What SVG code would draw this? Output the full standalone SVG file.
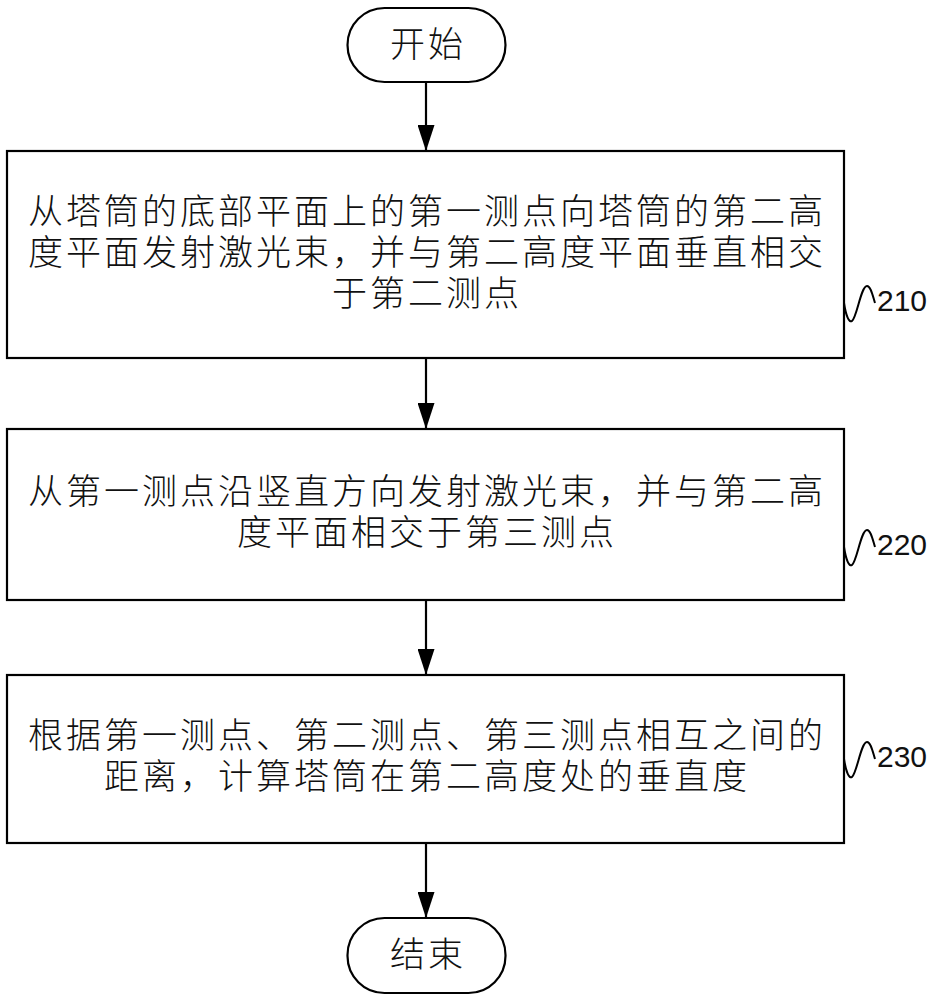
<svg xmlns="http://www.w3.org/2000/svg" width="934" height="1000" viewBox="0 0 934 1000">
<defs>
<style>
.box{fill:#fff;stroke:#000;stroke-width:2.2}
.t{font-family:"Noto Sans CJK SC","Noto Sans CJK JP",sans-serif;font-size:35px;font-weight:300;fill:#111;text-anchor:middle;letter-spacing:3px}
.n{font-family:"Liberation Sans",Arial,sans-serif;font-size:30px;fill:#111}
.ln{fill:none;stroke:#000;stroke-width:2.2}
.sq{fill:none;stroke:#000;stroke-width:2}
</style>
<marker id="ah" markerWidth="26" markerHeight="17" refX="26" refY="8.5" orient="auto" markerUnits="userSpaceOnUse" viewBox="0 0 26 17">
<path d="M0,0 L26,8.5 L0,17 Z" fill="#000"/>
</marker>
</defs>
<rect width="934" height="1000" fill="#fff"/>
<g id="connectors">
<line class="ln" x1="426" y1="82" x2="426" y2="151" marker-end="url(#ah)"/>
<line class="ln" x1="426" y1="358" x2="426" y2="429" marker-end="url(#ah)"/>
<line class="ln" x1="426" y1="600" x2="426" y2="675" marker-end="url(#ah)"/>
<line class="ln" x1="426" y1="843" x2="426" y2="918" marker-end="url(#ah)"/>
</g>
<g id="start">
<rect class="box" x="347.5" y="8" width="158" height="74" rx="37" ry="37"/>
<text class="t" x="428" y="57">开始</text>
</g>
<g id="step210">
<rect class="box" x="7" y="151" width="837" height="207"/>
<text class="t" x="427" y="224">从塔筒的底部平面上的第一测点向塔筒的第二高</text>
<text class="t" x="427" y="265">度平面发射激光束，并与第二高度平面垂直相交</text>
<text class="t" x="427" y="306">于第二测点</text>
<path class="sq" d="M844,303 C846,316 849,323 852,321 C857,317 861,286 867,286 C871,286 873,297 875,303"/>
<text class="n" x="877" y="311">210</text>
</g>
<g id="step220">
<rect class="box" x="7" y="429" width="837" height="171"/>
<text class="t" x="427" y="504">从第一测点沿竖直方向发射激光束，并与第二高</text>
<text class="t" x="427" y="545">度平面相交于第三测点</text>
<path class="sq" d="M844,547 C846,560 849,567 852,565 C857,561 861,530 867,530 C871,530 873,541 875,547"/>
<text class="n" x="877" y="555">220</text>
</g>
<g id="step230">
<rect class="box" x="7" y="675" width="837" height="168"/>
<text class="t" x="427" y="748">根据第一测点、第二测点、第三测点相互之间的</text>
<text class="t" x="427" y="789">距离，计算塔筒在第二高度处的垂直度</text>
<path class="sq" d="M844,759 C846,772 849,779 852,777 C857,773 861,742 867,742 C871,742 873,753 875,759"/>
<text class="n" x="877" y="767">230</text>
</g>
<g id="end">
<rect class="box" x="347.5" y="918" width="158" height="75" rx="37" ry="37"/>
<text class="t" x="428" y="967">结束</text>
</g>
</svg>
